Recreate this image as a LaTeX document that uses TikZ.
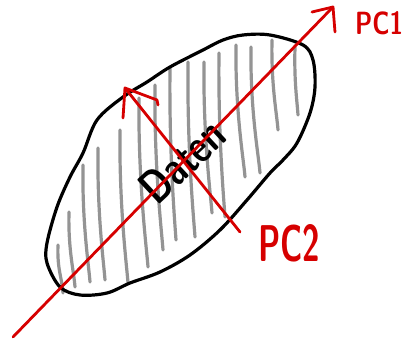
\documentclass[tikz,border=0pt]{standalone}
\usepackage{graphicx}
\definecolor{pcred}{RGB}{214,0,0}
\definecolor{hatch}{RGB}{148,148,148}
\tikzset{
  outline/.style={draw=black,line width=3.2pt,line join=round,line cap=round},
  hatchline/.style={draw=hatch,line width=3.2pt,line cap=round},
  axis/.style={draw=pcred,line width=2.8pt,line cap=round,line join=round},
  pclabel/.style={text=pcred,inner sep=0pt,font=\sffamily\bfseries},
  datalabel/.style={text=black,inner sep=0pt,font=\sffamily\bfseries}
}
\begin{document}
\begin{tikzpicture}[x=1pt,y=-1pt]
\useasboundingbox (0,0) rectangle (404,340);
% hatching
\foreach \xa/\ya/\xb/\yb in {
  58/245/63/293, 69/212/75/287, 83/165/90/282, 98/148/105/280,
  120/130/128/283, 139/98/148/267, 155/85/163/250, 170/68/176/240,
  188/62/195/237, 204/62/212/213, 219/53/225/217, 236/45/245/177,
  251/47/260/173, 272/40/278/130, 295/47/298/115}
  \draw[hatchline] (\xa,\ya) .. controls (\xa-1,{(\ya+\yb)/2}) and (\xb-1,\yb-15) .. (\xb,\yb);
% ellipse outline
\draw[outline] plot[smooth cycle,tension=0.55] coordinates {
  (270,35) (303,45) (313,60) (315,87) (310,113) (297,143) (283,160)
  (270,173) (247,200) (220,230) (190,255) (160,272) (130,283) (107,293)
  (80,295) (60,287) (47,263) (47,243) (57,207) (70,177) (83,153)
  (97,120) (123,97) (147,82) (170,67) (203,50) (223,40) (243,35)};
% label Daten
\node[datalabel,rotate=43] (daten) at (182,161) {\resizebox{98pt}{33pt}{Daten}};
% PC1
\coordinate (pc1s) at (13,337);
\coordinate (pc1t) at (333,7);
\coordinate (pc1a) at (312,12);
\coordinate (pc1b) at (335,32);
\draw[axis] (pc1s) -- (pc1t);
\draw[axis] (pc1a) -- (pc1t) -- (pc1b);
% PC2
\coordinate (pc2s) at (240,232);
\coordinate (pc2t) at (125,88);
\coordinate (pc2a) at (157,100);
\coordinate (pc2c) at (158,105);
\coordinate (pc2b) at (123,118);
\draw[axis] (pc2s) -- (pc2t);
\draw[axis] (pc2c) -- (pc2a) -- (pc2t) -- (pc2b);
% labels
\node[pclabel] (lpc1) at (379,23.5) {\resizebox{48pt}{23pt}{PC1}};
\node[pclabel] (lpc2) at (289,243.5) {\resizebox{62pt}{37pt}{PC2}};
\end{tikzpicture}
\end{document}
